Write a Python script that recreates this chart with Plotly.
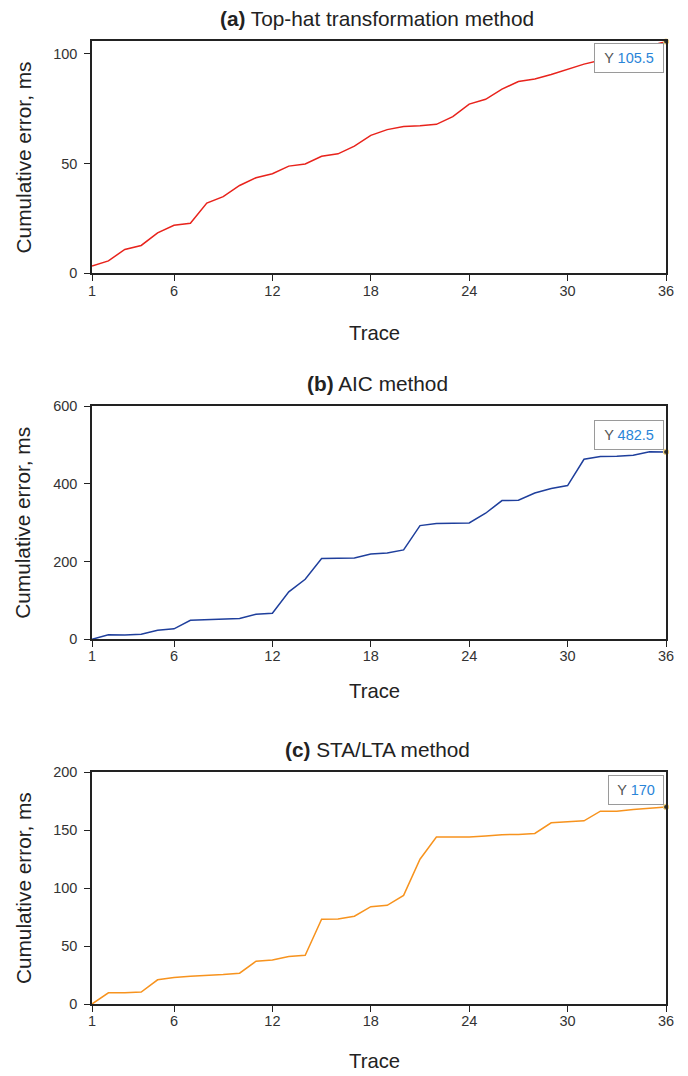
import plotly.graph_objects as go

traces = list(range(1, 37))

tophat = [3.3, 5.7, 10.9, 12.7, 18.4, 21.9, 22.8, 32.0, 34.9, 40.0, 43.5, 45.3,
          48.8, 49.8, 53.3, 54.4, 57.9, 62.8, 65.4, 66.8, 67.2, 67.8, 71.3, 77.0,
          79.2, 83.8, 87.3, 88.4, 90.5, 92.7, 95.2, 97.0, 99.0, 101.0, 103.5, 105.5]

aic = [0, 11.2, 11.0, 12.9, 23.2, 26.6, 48.9, 50.6, 51.5, 53.2, 64.4, 67.0,
       121.9, 154.5, 207.7, 207.7, 209.4, 219.7, 222.3, 230.0, 292.7, 297.9, 299.6, 299.6,
       324.5, 357.1, 358.0, 376.8, 388.0, 395.7, 463.5, 470.4, 471.3, 473.8, 483.0, 482.5]

stalta = [0, 9.7, 9.7, 10.3, 20.9, 22.9, 24.0, 24.6, 25.4, 26.6, 36.9, 38.0,
          40.9, 42.0, 73.1, 73.4, 75.7, 84.0, 85.1, 93.7, 124.9, 144.0, 144.0, 144.0,
          144.9, 146.0, 146.3, 147.1, 156.3, 156.9, 158.0, 166.3, 166.3, 167.7, 168.9, 170.0]

x_ticks = [1, 6, 12, 18, 24, 30, 36]

H = 1076


def py(y_px):
    # screen pixel row -> paper fraction (compensating page offset/scale seen in rendering)
    d = (y_px - 7.5) / 0.9856
    return 1 - d / H


panels = [
    dict(y=tophat, color="#e8231c", title="<b>(a)</b> Top-hat transformation method",
         yrange=[0, 105.5], yticks=[0, 50, 100], label="105.5", boxw=66,
         top=41, bottom=273, title_y=18, trace_y=333, box_top=43),
    dict(y=aic, color="#1f3f9c", title="<b>(b)</b> AIC method",
         yrange=[0, 600], yticks=[0, 200, 400, 600], label="482.5", boxw=66,
         top=406, bottom=639, title_y=383, trace_y=691, box_top=420),
    dict(y=stalta, color="#f7931e", title="<b>(c)</b> STA/LTA method",
         yrange=[0, 200], yticks=[0, 50, 100, 150, 200], label="170", boxw=52,
         top=772, bottom=1004, title_y=749.5, trace_y=1061, box_top=775),
]

fig = go.Figure()
annotations = []
font_family = "Liberation Sans, Arial, sans-serif"

for i, p in enumerate(panels):
    n = "" if i == 0 else str(i + 1)
    xa = "x" + n
    ya = "y" + n
    fig.add_trace(go.Scatter(x=traces, y=p["y"], mode="lines", xaxis=xa, yaxis=ya,
                             line=dict(color=p["color"], width=1.5), showlegend=False,
                             hoverinfo="skip"))
    fig.add_trace(go.Scatter(x=[traces[-1]], y=[p["y"][-1]], mode="markers", xaxis=xa, yaxis=ya,
                             marker=dict(color="#333333", size=5,
                                         line=dict(color="#f3d27a", width=1.2)),
                             showlegend=False, hoverinfo="skip", cliponaxis=False))
    axis_common = dict(showline=True, linecolor="#222222", linewidth=1.5, mirror=True,
                       ticks="outside", ticklen=6, tickwidth=1.3, tickcolor="#222222",
                       showgrid=False, zeroline=False,
                       tickfont=dict(size=14.5, color="#333333", family=font_family))
    dom = [py(p["bottom"]), py(p["top"])]
    fig.update_layout(**{
        ("xaxis" + n): dict(domain=[0, 1], range=[1, 36], tickmode="array", tickvals=x_ticks,
                            anchor=ya, ticklabelstandoff=-3, **axis_common),
        ("yaxis" + n): dict(domain=dom, range=p["yrange"], tickmode="array",
                            tickvals=p["yticks"], anchor=xa, ticklabelstandoff=4,
                            **axis_common),
    })
    annotations.append(dict(text=p["title"], xref="paper", yref="paper", x=(377 - 92) / 574,
                            y=py(p["title_y"]), xanchor="center", yanchor="middle",
                            showarrow=False,
                            font=dict(size=20.8, color="#222222", family=font_family)))
    annotations.append(dict(text="Trace", xref="paper", yref="paper", x=(374 - 92) / 574,
                            y=py(p["trace_y"]), xanchor="center", yanchor="middle",
                            showarrow=False,
                            font=dict(size=20.3, color="#222222", family=font_family)))
    annotations.append(dict(text="Cumulative error, ms", xref="paper", yref="paper",
                            x=(23 - 92) / 574, y=py((p["top"] + p["bottom"]) / 2),
                            textangle=-90, xanchor="center", yanchor="middle",
                            showarrow=False,
                            font=dict(size=20.8, color="#222222", family=font_family)))
    annotations.append(dict(text="Y <span style='color:#2a85d8'>" + p["label"] + "</span>",
                            xref=xa + " domain", yref="paper", x=(664 - 92) / 574,
                            y=py(p["box_top"]), xanchor="right", yanchor="top",
                            showarrow=False, width=p["boxw"], height=26, align="center",
                            valign="middle",
                            bgcolor="white", bordercolor="#9a9a9a", borderwidth=1, borderpad=1,
                            font=dict(size=14.5, color="#555555", family=font_family)))

fig.update_layout(width=688, height=H, margin=dict(l=92, r=22, t=0, b=0),
                  paper_bgcolor="white", plot_bgcolor="white", annotations=annotations)

fig.write_html("out.html")
